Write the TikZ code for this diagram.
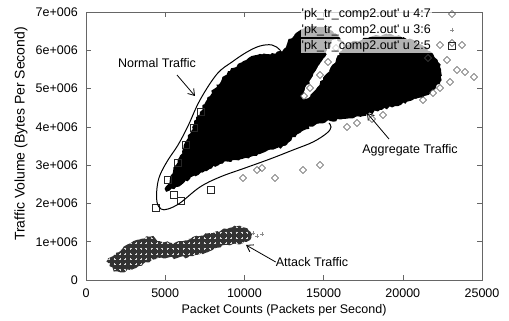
\documentclass[tikz,border=0pt]{standalone}
\usepackage{fontspec}
\setmainfont{Liberation Sans}
\usetikzlibrary{arrows.meta,decorations.pathmorphing}
\begin{document}
\begin{tikzpicture}[x=1pt,y=-1pt,
  lbl/.style={font=\fontsize{12.5}{14}\selectfont, inner sep=0pt},
  legtext/.style={lbl, anchor=east, fill=white, fill opacity=0.7, text opacity=1, inner sep=1pt},
  frameline/.style={black!60, line width=0.7pt},
  tickline/.style={black!60, line width=0.6pt},
  arrowline/.style={black, line width=0.8pt, -{Straight Barb[length=6pt,width=8pt]}},
  loopline/.style={black, line width=1pt},
  sqline/.style={draw=black!85, line width=0.5pt},
  dmline/.style={draw=black!70, line width=0.5pt},
  plusline/.style={draw=black!45, line width=0.5pt},
  ragged/.style={decorate, decoration={random steps, segment length=2.5pt, amplitude=1.3pt}},
]
\useasboundingbox (0,0) rectangle (509,321);
\fill[white] (0,0) rectangle (509,321);
\pgfmathsetseed{7}

% frame and ticks
\draw[frameline] (86,12) rectangle (482,280);
\foreach \k in {1,...,6}{
  \draw[tickline] (86,{280-\k*38.29}) -- ++(5,0);
  \draw[tickline] (482,{280-\k*38.29}) -- ++(-5,0);
}
\foreach \k in {1,...,4}{
  \draw[tickline] ({86+\k*79.2},280) -- ++(0,-5);
  \draw[tickline] ({86+\k*79.2},12) -- ++(0,5);
}

% tick labels
\node[lbl, anchor=east] (y0) at (78,280) {0};
\foreach \k in {1,...,7}{
  \node[lbl, anchor=east] (y\k) at (78,{280-\k*38.29}) {\k e+006};
}
\foreach \k/\t in {0/0,1/5000,2/10000,3/15000,4/20000,5/25000}{
  \node[lbl] (x\k) at ({86+\k*79.2},293) {\t};
}
\node[lbl] (xtitle) at (284,310) {Packet Counts (Packets per Second)};
\node[font=\fontsize{14}{16}\selectfont, inner sep=0pt, rotate=90] (ytitle) at (21,134) {Traffic Volume (Bytes Per Second)};

% normal + aggregate traffic cloud
\fill[black, ragged] plot[smooth cycle, tension=0.5] coordinates {
 (166,191) (170,178) (176,165) (182,152) (188,138) (194,124) (200,112) (207,100)
 (214,89) (222,79) (230,71) (240,63) (250,57) (260,54) (272,53) (282,51) (288,41)
 (296,33) (306,28) (318,27) (330,30) (338,36) (345,44) (355,41) (368,38) (383,35)
 (397,36) (410,39) (422,45) (432,53) (438,62) (441,72) (440,82) (433,90) (424,96)
 (410,101) (395,106) (380,110) (363,116) (345,119) (330,121) (317,124) (300,133)
 (283,146) (265,152) (250,157) (235,160) (220,164) (205,171) (190,179) (176,187)};
\fill[white, ragged] plot[smooth cycle, tension=0.5] coordinates {
 (334,40) (343,45) (336,59) (326,74) (316,89) (308,98) (303,98) (305,90)
 (313,76) (322,61) (329,48)};

% attack traffic cloud
\fill[black!80, ragged] plot[smooth cycle, tension=0.5] coordinates {
 (108,260) (113,256) (123,248) (137,240) (150,237) (160,241) (173,243) (183,241)
 (193,237) (210,233) (227,229) (240,226) (248,230) (251,238) (243,243) (227,245)
 (210,251) (193,256) (177,258) (160,258) (143,264) (130,270) (117,271) (110,266)};
\begin{scope}
\clip plot[smooth cycle, tension=0.5] coordinates {
 (108,260) (113,256) (123,248) (137,240) (150,237) (160,241) (173,243) (183,241)
 (193,237) (210,233) (227,229) (240,226) (248,230) (251,238) (243,243) (227,245)
 (210,251) (193,256) (177,258) (160,258) (143,264) (130,270) (117,271) (110,266)};
\foreach \i in {0,...,30}{
  \foreach \j in {0,...,11}{
    \draw[white!85!black, line width=0.6pt] ({104+\i*5.3-1},{222+\j*5.3}) -- ++(2,0)
      ({104+\i*5.3},{222+\j*5.3-1}) -- ++(0,2);
  }
}
\end{scope}
\foreach \a/\b in {253/233,257/236,262/234}{
  \draw[plusline] (\a-2,\b) -- (\a+2,\b) (\a,\b-2) -- (\a,\b+2);
}

% scattered markers
\foreach \a/\b in {440/45,452/43,462/45,447/60,457/70,465/72,474/77,450/82,440/88,
  433/93,423/100,383/115,372/119,357/123,347/127,257/170,275/178,303/170,243/178,
  262/168,320/165,336/48,328/62,320/75,310/88,304/96,428/58}{
  \draw[dmline] (\a-3.5,\b) -- (\a,\b-3.5) -- (\a+3.5,\b) -- (\a,\b+3.5) -- cycle;
}
\foreach \a/\b in {156/208,174/195,181/201,211/190,168/180,178/163,186/145,194/128,201/112}{
  \draw[sqline] (\a-3.5,\b-3.5) rectangle (\a+3.5,\b+3.5);
}

% loop around normal traffic
\draw[loopline] plot[smooth, tension=0.6] coordinates {
 (282,57) (280,50) (272,45) (260,46) (247,52) (232,62) (217,74) (200,100)
 (188,126) (178,145) (168,160) (160,175) (157,188) (157,202) (161,209) (168,209)
 (180,203) (200,187) (220,177) (245,168) (270,159) (293,150) (313,142) (327,133)
 (331,127) (329,123)};

% legend
\node[legtext] (leg1) at (432,14) {\textquotesingle pk\_tr\_comp2.out\textquotesingle\ u 4:7};
\node[legtext] (leg2) at (432,30) {\textquotesingle pk\_tr\_comp2.out\textquotesingle\ u 3:6};
\node[legtext] (leg3) at (432,46) {\textquotesingle pk\_tr\_comp2.out\textquotesingle\ u 2:5};
\draw[dmline] (448.5,14) -- (452,10.5) -- (455.5,14) -- (452,17.5) -- cycle;
\draw[plusline] (450,30) -- (454,30) (452,28) -- (452,32);
\draw[sqline] (448.5,42.5) rectangle (455.5,49.5);

% annotations
\node[lbl] (ntext) at (157,63) {Normal Traffic};
\node[lbl] (agtext) at (410,150) {Aggregate Traffic};
\node[lbl] (attext) at (312,262) {Attack Traffic};
\coordinate (nstart) at (177,75);
\coordinate (ntip) at (195,96);
\coordinate (agstart) at (389,139);
\coordinate (agtip) at (367,113);
\coordinate (attip) at (246,245);
\draw[arrowline] (nstart) -- (ntip);
\draw[arrowline] (agstart) -- (agtip);
\draw[arrowline] (attext.west) -- (attip);
\end{tikzpicture}
\end{document}
